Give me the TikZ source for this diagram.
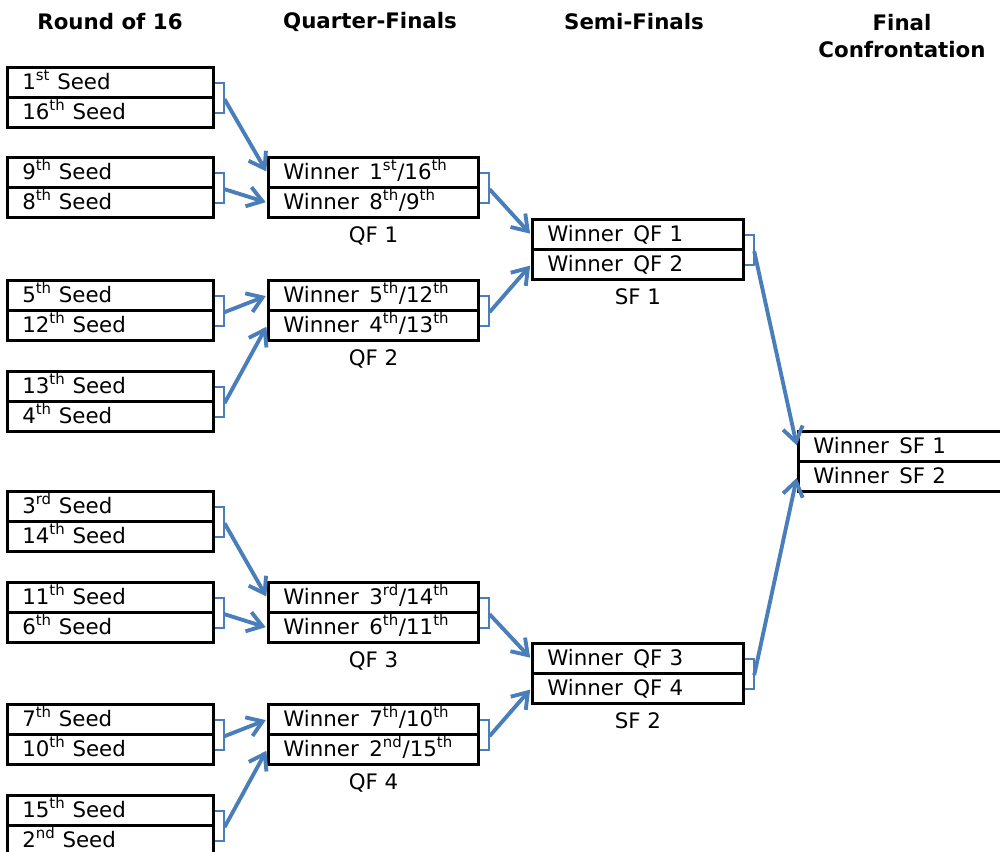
\documentclass[tikz,border=0pt]{standalone}
\usepackage{fontspec}
\setmainfont{DejaVu Sans}
\usetikzlibrary{arrows.meta,positioning}
\definecolor{linkblue}{RGB}{74,126,187}
\tikzset{every picture/.style={line width=0.75pt}}

\begin{document}
\begin{tikzpicture}[x=0.75pt,y=0.75pt,yscale=-1,xscale=1,
    cell/.style={draw, line width=2.4pt, anchor=north west, inner xsep=11pt, inner ysep=0pt,
        minimum height=22.5pt, text width=#1, align=left, text height=12.5pt, text depth=2.5pt,
        font=\fontsize{16}{18}\selectfont},
    cell/.default=132.5pt,
    brkt/.style={draw=linkblue, line width=1.5pt},
    win/.style={draw=linkblue, line width=2.9pt, -{Straight Barb[length=11pt,width=15pt]}, shorten >=1pt},
    head/.style={font=\fontsize{16}{20.25}\selectfont\bfseries, align=center},
    tag/.style={font=\fontsize{16}{18}\selectfont}]
    \useasboundingbox (0,0) rectangle (1000,852);

    % Headings
    \node[head] (h16) at (110,22) {Round of 16};
    \node[head] (hqf) at (370,22) {Quarter-Finals};
    \node[head] (hsf) at (634,22) {Semi-Finals};
    \node[head] (hfc) at (902,36) {Final\\Confrontation};

    % Round of 16
    \node[cell] (s1) at (6,66) {1\textsuperscript{st} Seed};
    \node[cell] (s16) at (6,96) {16\textsuperscript{th} Seed};
    \node[cell] (s9) at (6,156) {9\textsuperscript{th} Seed};
    \node[cell] (s8) at (6,186) {8\textsuperscript{th} Seed};
    \node[cell] (s5) at (6,279) {5\textsuperscript{th} Seed};
    \node[cell] (s12) at (6,309) {12\textsuperscript{th} Seed};
    \node[cell] (s13) at (6,370) {13\textsuperscript{th} Seed};
    \node[cell] (s4) at (6,400) {4\textsuperscript{th} Seed};
    \node[cell] (s3) at (6,490) {3\textsuperscript{rd} Seed};
    \node[cell] (s14) at (6,520) {14\textsuperscript{th} Seed};
    \node[cell] (s11) at (6,581) {11\textsuperscript{th} Seed};
    \node[cell] (s6) at (6,611) {6\textsuperscript{th} Seed};
    \node[cell] (s7) at (6,703) {7\textsuperscript{th} Seed};
    \node[cell] (s10) at (6,733) {10\textsuperscript{th} Seed};
    \node[cell] (s15) at (6,794) {15\textsuperscript{th} Seed};
    \node[cell] (s2) at (6,824) {2\textsuperscript{nd} Seed};

    % Quarter-finals
    \node[cell=135.5pt] (qf1a) at (267,156) {Winner\hspace{0.5em}1\textsuperscript{st}/16\textsuperscript{th}};
    \node[cell=135.5pt] (qf1b) at (267,186) {Winner\hspace{0.5em}8\textsuperscript{th}/9\textsuperscript{th}};
    \node[cell=135.5pt] (qf2a) at (267,279) {Winner\hspace{0.5em}5\textsuperscript{th}/12\textsuperscript{th}};
    \node[cell=135.5pt] (qf2b) at (267,309) {Winner\hspace{0.5em}4\textsuperscript{th}/13\textsuperscript{th}};
    \node[cell=135.5pt] (qf3a) at (267,581) {Winner\hspace{0.5em}3\textsuperscript{rd}/14\textsuperscript{th}};
    \node[cell=135.5pt] (qf3b) at (267,611) {Winner\hspace{0.5em}6\textsuperscript{th}/11\textsuperscript{th}};
    \node[cell=135.5pt] (qf4a) at (267,703) {Winner\hspace{0.5em}7\textsuperscript{th}/10\textsuperscript{th}};
    \node[cell=135.5pt] (qf4b) at (267,733) {Winner\hspace{0.5em}2\textsuperscript{nd}/15\textsuperscript{th}};
    \node[tag, below=2pt of qf1b] (lqf1) {QF 1};
    \node[tag, below=2pt of qf2b] (lqf2) {QF 2};
    \node[tag, below=2pt of qf3b] (lqf3) {QF 3};
    \node[tag, below=2pt of qf4b] (lqf4) {QF 4};

    % Semi-finals
    \node[cell=136pt] (sf1a) at (531,218) {Winner\hspace{0.5em}QF 1};
    \node[cell=136pt] (sf1b) at (531,248) {Winner\hspace{0.5em}QF 2};
    \node[cell=136pt] (sf2a) at (531,642) {Winner\hspace{0.5em}QF 3};
    \node[cell=136pt] (sf2b) at (531,672) {Winner\hspace{0.5em}QF 4};
    \node[tag, below=2pt of sf1b] (lsf1) {SF 1};
    \node[tag, below=2pt of sf2b] (lsf2) {SF 2};

    % Final
    \node[cell=135.5pt] (fa) at (797,430) {Winner\hspace{0.5em}SF 1};
    \node[cell=135.5pt] (fb) at (797,460) {Winner\hspace{0.5em}SF 2};

    % Brackets
    \foreach \a/\b in {s1/s16, s9/s8, s5/s12, s13/s4, s3/s14, s11/s6, s7/s10, s15/s2,
        qf1a/qf1b, qf2a/qf2b, qf3a/qf3b, qf4a/qf4b, sf1a/sf1b, sf2a/sf2b}
        \draw[brkt] (\a.east) -- ++(9,0) |- (\b.east);

    % Arrows
    \foreach \a/\t in {s1/qf1a, s9/qf1b, s5/qf2a, s13/qf2b, s3/qf3a, s11/qf3b, s7/qf4a, s15/qf4b,
        qf1a/sf1a, qf2a/sf1b, qf3a/sf2a, qf4a/sf2b, sf1a/fa, sf2a/fb}
        \draw[win] ([xshift=7pt]\a.south east) -- (\t.west);

\end{tikzpicture}
\end{document}
